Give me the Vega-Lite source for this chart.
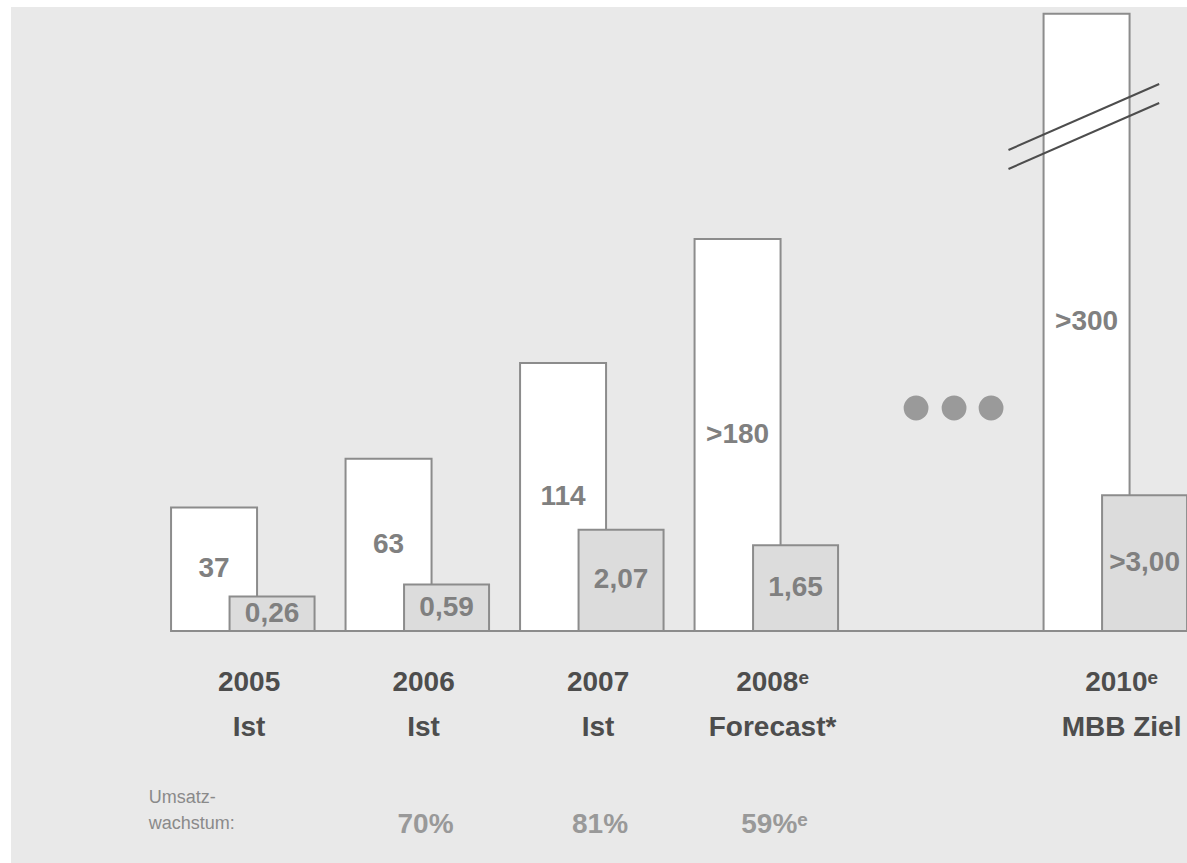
{
  "$schema": "https://vega.github.io/schema/vega-lite/v6.json",
  "width": 1176,
  "height": 856,
  "autosize": {"type": "none"},
  "padding": {"left": 11, "top": 7, "right": 0, "bottom": 0},
  "background": "#ffffff",
  "config": {"view": {"fill": "#e9e9e9", "stroke": null}, "text": {"font": "Liberation Sans"}},
  "datasets": {
    "bars": [
      {"year": 2005, "umsatz": 37, "umsatzLabel": "37", "ergebnis": 0.26, "ergebnisLabel": "0,26", "line1": "2005", "line2": "Ist", "growth": null},
      {"year": 2006, "umsatz": 63, "umsatzLabel": "63", "ergebnis": 0.59, "ergebnisLabel": "0,59", "line1": "2006", "line2": "Ist", "growth": "70%"},
      {"year": 2007, "umsatz": 114, "umsatzLabel": "114", "ergebnis": 2.07, "ergebnisLabel": "2,07", "line1": "2007", "line2": "Ist", "growth": "81%"},
      {"year": 2008, "umsatz": 180, "umsatzLabel": ">180", "ergebnis": 1.65, "ergebnisLabel": "1,65", "line1": "2008ᵉ", "line2": "Forecast*", "growth": "59%ᵉ"},
      {"year": 2010, "umsatz": 300, "umsatzLabel": ">300", "ergebnis": 3.0, "ergebnisLabel": ">3,00", "line1": "2010ᵉ", "line2": "MBB Ziel", "growth": null}
    ],
    "note": [{"label": "Umsatz-\nwachstum:"}]
  },
  "layer": [
    {
      "data": {"values": [{}]},
      "mark": {"type": "rule", "color": "#8c8c8c", "strokeWidth": 2},
      "encoding": {
        "x": {"datum": 2004.59, "type": "quantitative", "scale": {"domain": [2003.69886, 2010.38068], "nice": false, "zero": false}, "axis": null},
        "x2": {"datum": 2010.38068},
        "y": {"datum": -28.7, "type": "quantitative", "scale": {"domain": [-152.24, 303.57], "nice": false, "zero": false}, "axis": null}
      }
    },
    {
      "data": {"name": "bars"},
      "mark": {"type": "bar", "width": 86, "xOffset": -29, "fill": "#ffffff", "stroke": "#8c8c8c", "strokeWidth": 2},
      "encoding": {
        "x": {"field": "year", "type": "quantitative", "scale": {"domain": [2003.69886, 2010.38068], "nice": false, "zero": false}, "axis": null},
        "y": {"field": "umsatz", "type": "quantitative", "scale": {"domain": [-152.24, 303.57], "nice": false, "zero": false}, "axis": null},
        "y2": {"datum": -28.7}
      }
    },
    {
      "data": {"name": "bars"},
      "transform": [{"calculate": "(datum.umsatz - 28.7) / 2", "as": "mid"}],
      "mark": {"type": "text", "xOffset": -29, "fontSize": 28, "fontWeight": "bold", "color": "#808080", "baseline": "middle", "align": "center"},
      "encoding": {
        "x": {"field": "year", "type": "quantitative", "scale": {"domain": [2003.69886, 2010.38068], "nice": false, "zero": false}, "axis": null},
        "y": {"field": "mid", "type": "quantitative", "scale": {"domain": [-152.24, 303.57], "nice": false, "zero": false}, "axis": null},
        "text": {"field": "umsatzLabel"}
      }
    },
    {
      "data": {"name": "bars"},
      "mark": {"type": "bar", "width": 85, "xOffset": 29, "fill": "#dcdcdc", "stroke": "#8c8c8c", "strokeWidth": 2},
      "encoding": {
        "x": {"field": "year", "type": "quantitative", "scale": {"domain": [2003.69886, 2010.38068], "nice": false, "zero": false}, "axis": null},
        "y": {"field": "ergebnis", "type": "quantitative", "scale": {"domain": [-6.94, 16.195], "nice": false, "zero": false}, "axis": null},
        "y2": {"datum": -0.67}
      }
    },
    {
      "data": {"name": "bars"},
      "transform": [{"calculate": "(datum.ergebnis - 0.67) / 2", "as": "mid"}],
      "mark": {"type": "text", "xOffset": 29, "fontSize": 28, "fontWeight": "bold", "color": "#808080", "baseline": "middle", "align": "center"},
      "encoding": {
        "x": {"field": "year", "type": "quantitative", "scale": {"domain": [2003.69886, 2010.38068], "nice": false, "zero": false}, "axis": null},
        "y": {"field": "mid", "type": "quantitative", "scale": {"domain": [-6.94, 16.195], "nice": false, "zero": false}, "axis": null},
        "text": {"field": "ergebnisLabel"}
      }
    },
    {
      "data": {"values": [{}]},
      "mark": {"type": "rule", "color": "#4d4d4d", "strokeWidth": 2},
      "encoding": {
        "x": {"datum": 2009.38636, "type": "quantitative", "scale": {"domain": [2003.69886, 2010.38068], "nice": false, "zero": false}, "axis": null},
        "x2": {"datum": 2010.25},
        "y": {"datum": 227.43, "type": "quantitative", "scale": {"domain": [-152.24, 303.57], "nice": false, "zero": false}, "axis": null},
        "y2": {"datum": 262.57}
      }
    },
    {
      "data": {"values": [{}]},
      "mark": {"type": "rule", "color": "#4d4d4d", "strokeWidth": 2},
      "encoding": {
        "x": {"datum": 2009.38636, "type": "quantitative", "scale": {"domain": [2003.69886, 2010.38068], "nice": false, "zero": false}, "axis": null},
        "x2": {"datum": 2010.25},
        "y": {"datum": 217.31, "type": "quantitative", "scale": {"domain": [-152.24, 303.57], "nice": false, "zero": false}, "axis": null},
        "y2": {"datum": 252.45}
      }
    },
    {
      "data": {"values": [{}]},
      "mark": {"type": "point", "filled": true, "size": 616, "color": "#9a9a9a", "opacity": 1, "xOffset": -25},
      "encoding": {
        "x": {"datum": 2009, "type": "quantitative", "scale": {"domain": [2003.69886, 2010.38068], "nice": false, "zero": false}, "axis": null},
        "y": {"datum": 90.04, "type": "quantitative", "scale": {"domain": [-152.24, 303.57], "nice": false, "zero": false}, "axis": null}
      }
    },
    {
      "data": {"values": [{}]},
      "mark": {"type": "point", "filled": true, "size": 616, "color": "#9a9a9a", "opacity": 1, "xOffset": 13},
      "encoding": {
        "x": {"datum": 2009, "type": "quantitative", "scale": {"domain": [2003.69886, 2010.38068], "nice": false, "zero": false}, "axis": null},
        "y": {"datum": 90.04, "type": "quantitative", "scale": {"domain": [-152.24, 303.57], "nice": false, "zero": false}, "axis": null}
      }
    },
    {
      "data": {"values": [{}]},
      "mark": {"type": "point", "filled": true, "size": 616, "color": "#9a9a9a", "opacity": 1, "xOffset": 50},
      "encoding": {
        "x": {"datum": 2009, "type": "quantitative", "scale": {"domain": [2003.69886, 2010.38068], "nice": false, "zero": false}, "axis": null},
        "y": {"datum": 90.04, "type": "quantitative", "scale": {"domain": [-152.24, 303.57], "nice": false, "zero": false}, "axis": null}
      }
    },
    {
      "data": {"name": "bars"},
      "mark": {"type": "text", "dx": 6, "fontSize": 28, "fontWeight": "bold", "color": "#4d4d4d", "baseline": "middle", "align": "center"},
      "encoding": {
        "x": {"field": "year", "type": "quantitative", "scale": {"domain": [2003.69886, 2010.38068], "nice": false, "zero": false}, "axis": null},
        "y": {"datum": -56.6, "type": "quantitative", "scale": {"domain": [-152.24, 303.57], "nice": false, "zero": false}, "axis": null},
        "text": {"field": "line1"}
      }
    },
    {
      "data": {"name": "bars"},
      "mark": {"type": "text", "dx": 6, "fontSize": 28, "fontWeight": "bold", "color": "#4d4d4d", "baseline": "middle", "align": "center"},
      "encoding": {
        "x": {"field": "year", "type": "quantitative", "scale": {"domain": [2003.69886, 2010.38068], "nice": false, "zero": false}, "axis": null},
        "y": {"datum": -80.14, "type": "quantitative", "scale": {"domain": [-152.24, 303.57], "nice": false, "zero": false}, "axis": null},
        "text": {"field": "line2"}
      }
    },
    {
      "data": {"name": "bars"},
      "transform": [{"filter": "datum.growth != null"}],
      "mark": {"type": "text", "dx": 8, "fontSize": 28, "fontWeight": "bold", "color": "#999999", "baseline": "middle", "align": "center"},
      "encoding": {
        "x": {"field": "year", "type": "quantitative", "scale": {"domain": [2003.69886, 2010.38068], "nice": false, "zero": false}, "axis": null},
        "y": {"datum": -132.0, "type": "quantitative", "scale": {"domain": [-152.24, 303.57], "nice": false, "zero": false}, "axis": null},
        "text": {"field": "growth"}
      }
    },
    {
      "data": {"name": "note"},
      "mark": {"type": "text", "fontSize": 18, "color": "#8a8a8a", "baseline": "middle", "align": "left", "lineBreak": "\n", "lineHeight": 26},
      "encoding": {
        "x": {"datum": 2004.46, "type": "quantitative", "scale": {"domain": [2003.69886, 2010.38068], "nice": false, "zero": false}, "axis": null},
        "y": {"datum": -117.89, "type": "quantitative", "scale": {"domain": [-152.24, 303.57], "nice": false, "zero": false}, "axis": null},
        "text": {"field": "label"}
      }
    }
  ],
  "resolve": {"scale": {"y": "independent"}}
}
